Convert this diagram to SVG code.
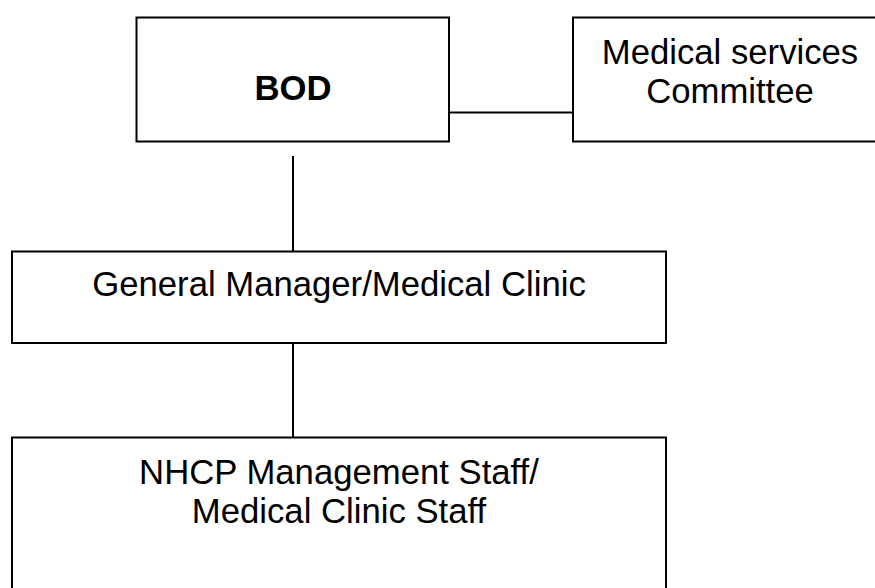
<svg xmlns="http://www.w3.org/2000/svg" width="875" height="588" viewBox="0 0 875 588">
  <style>
    .box { fill: #ffffff; stroke: #000000; stroke-width: 2; }
    .link { fill: none; stroke: #000000; stroke-width: 2; }
    .label { font-family: "Liberation Sans", Arial, sans-serif; font-size: 34.7px; fill: #000000; text-anchor: middle; }
    .bold { font-weight: bold; }
  </style>
  <rect width="875" height="588" fill="#ffffff"/>

  <!-- connectors -->
  <g id="connectors">
    <line class="link" x1="449" y1="112.5" x2="573" y2="112.5"/>
    <line class="link" x1="293" y1="156" x2="293" y2="251.5"/>
    <line class="link" x1="293" y1="343" x2="293" y2="437.5"/>
  </g>

  <!-- board of directors -->
  <g id="bod">
    <rect class="box" x="136.5" y="17.5" width="312.5" height="124"/>
    <text class="label bold" x="293" y="100">BOD</text>
  </g>

  <!-- medical services committee -->
  <g id="committee">
    <rect class="box" x="573" y="17.5" width="314" height="124"/>
    <text class="label" x="730" y="63.5">Medical services</text>
    <text class="label" x="730" y="103">Committee</text>
  </g>

  <!-- general manager -->
  <g id="general-manager">
    <rect class="box" x="12" y="251.5" width="654" height="91.5"/>
    <text class="label" x="339" y="296">General Manager/Medical Clinic</text>
  </g>

  <!-- staff -->
  <g id="staff">
    <rect class="box" x="12" y="437.5" width="654" height="170"/>
    <text class="label" x="339" y="484">NHCP Management Staff/</text>
    <text class="label" x="339" y="523">Medical Clinic Staff</text>
  </g>
</svg>
